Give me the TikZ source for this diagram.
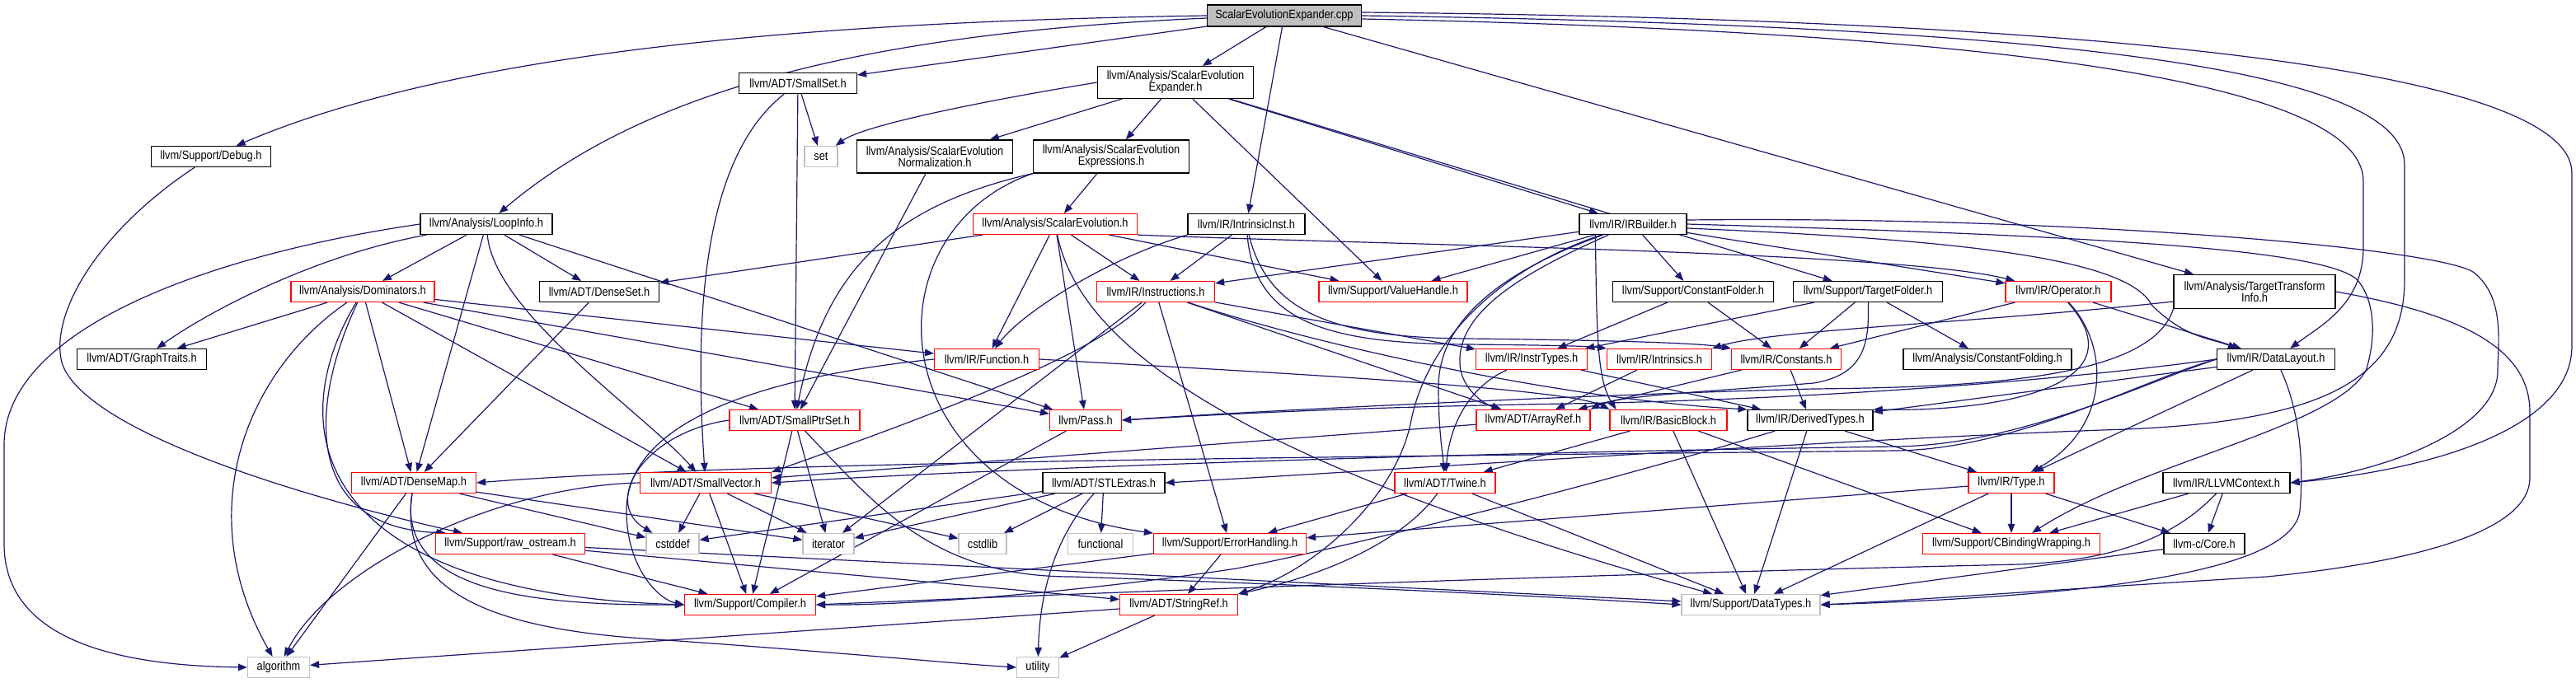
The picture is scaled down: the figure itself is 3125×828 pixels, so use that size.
\documentclass[tikz,border=0pt]{standalone}
\usepackage{fontspec}
\setmainfont{Liberation Sans}[FakeStretch=0.865]
\usetikzlibrary{arrows.meta,backgrounds}
\definecolor{edgec}{RGB}{25,25,112}
\definecolor{gborder}{RGB}{191,191,191}
\definecolor{rborder}{RGB}{255,0,0}
\newcommand\dxfont{\fontsize{14.8}{14}\selectfont}
\begin{document}
\begin{tikzpicture}[x=1pt,y=1pt,
  nb/.style={draw=black, line width=1.2pt, fill=white, inner sep=0pt, minimum height=25pt, font=\dxfont, align=center, text=black},
  nr/.style={nb, draw=rborder},
  ng/.style={nb, draw=gborder},
  e/.style={draw=edgec, line width=1.2pt, -{Triangle[length=11pt,width=8.5pt]}},
]
\useasboundingbox (0,0) rectangle (3125,-828);
% nodes
\node[nb, fill=gborder, minimum width=187pt, minimum height=26pt] (cpp) at (1558,-19) {ScalarEvolutionExpander.cpp};
\node[nb,minimum width=145pt] (debug) at (256,-190) {llvm/Support/Debug.h};
\node[nb,minimum width=160pt] (loopinfo) at (590,-272) {llvm/Analysis/LoopInfo.h};
\node[nr,minimum width=174pt] (dominators) at (440,-354) {llvm/Analysis/Dominators.h};
\node[nb,minimum width=145pt] (denseset) at (727,-354) {llvm/ADT/DenseSet.h};
\node[nb,minimum width=157pt] (graphtraits) at (172,-436) {llvm/ADT/GraphTraits.h};
\node[nr,minimum width=151pt] (densemap) at (502,-586) {llvm/ADT/DenseMap.h};
\node[nr,minimum width=181pt] (rawostream) at (619,-660) {llvm/Support/raw\_ostream.h};
\node[ng,minimum width=75pt] (algorithm) at (338,-810) {algorithm};
\node[nr,minimum width=159pt] (smallvector) at (856,-586) {llvm/ADT/SmallVector.h};
\node[nb,minimum width=143pt] (smallset) at (968,-101) {llvm/ADT/SmallSet.h};
\node[nb,minimum width=189pt,minimum height=39pt] (seexp) at (1426,-100) {llvm/Analysis/ScalarEvolution\\Expander.h};
\node[ng,minimum width=40pt] (set) at (996,-190) {set};
\node[nb,minimum width=189pt,minimum height=40pt] (senorm) at (1134,-190) {llvm/Analysis/ScalarEvolution\\Normalization.h};
\node[nb,minimum width=189pt,minimum height=40pt] (seexpr) at (1348,-190) {llvm/Analysis/ScalarEvolution\\Expressions.h};
\node[nr,minimum width=199pt] (se) at (1280,-272) {llvm/Analysis/ScalarEvolution.h};
\node[nb,minimum width=142pt] (intrinsicinst) at (1512,-272) {llvm/IR/IntrinsicInst.h};
\node[nr,minimum width=143pt] (instructions) at (1402,-354) {llvm/IR/Instructions.h};
\node[nr,minimum width=127pt] (function) at (1197,-436) {llvm/IR/Function.h};
\node[nr,minimum width=158pt] (smallptrset) at (964,-510) {llvm/ADT/SmallPtrSet.h};
\node[nr,minimum width=87pt] (pass) at (1317,-510) {llvm/Pass.h};
\node[nb,minimum width=148pt] (stlextras) at (1339,-586) {llvm/ADT/STLExtras.h};
\node[ng,minimum width=64pt] (cstddef) at (816,-660) {cstddef};
\node[ng,minimum width=62pt] (iterator) at (1005,-660) {iterator};
\node[ng,minimum width=58pt] (cstdlib) at (1192,-660) {cstdlib};
\node[ng,minimum width=79pt] (functional) at (1335,-660) {functional};
\node[nr,minimum width=185pt] (errorhandling) at (1492,-660) {llvm/Support/ErrorHandling.h};
\node[nr,minimum width=159pt] (compiler) at (910,-734) {llvm/Support/Compiler.h};
\node[nr,minimum width=143pt] (stringref) at (1430,-734) {llvm/ADT/StringRef.h};
\node[ng,minimum width=51pt] (utility) at (1259,-810) {utility};
\node[nb,minimum width=130pt] (irbuilder) at (1981,-272) {llvm/IR/IRBuilder.h};
\node[nr,minimum width=180pt] (valuehandle) at (1690,-354) {llvm/Support/ValueHandle.h};
\node[nb,minimum width=195pt] (constfolder) at (2054,-354) {llvm/Support/ConstantFolder.h};
\node[nb,minimum width=181pt] (targetfolder) at (2266,-354) {llvm/Support/TargetFolder.h};
\node[nr,minimum width=135pt] (instrtypes) at (1858,-436) {llvm/IR/InstrTypes.h};
\node[nr,minimum width=127pt] (intrinsics) at (2013,-436) {llvm/IR/Intrinsics.h};
\node[nr,minimum width=133pt] (constants) at (2167,-436) {llvm/IR/Constants.h};
\node[nb,minimum width=204pt] (constfolding) at (2411,-436) {llvm/Analysis/ConstantFolding.h};
\node[nr,minimum width=138pt] (arrayref) at (1860,-510) {llvm/ADT/ArrayRef.h};
\node[nr,minimum width=142pt] (basicblock) at (2024,-510) {llvm/IR/BasicBlock.h};
\node[nb,minimum width=152pt] (derivedtypes) at (2196,-510) {llvm/IR/DerivedTypes.h};
\node[nr,minimum width=122pt] (twine) at (1753,-586) {llvm/ADT/Twine.h};
\node[ng,minimum width=168pt] (datatypes) at (2124,-734) {llvm/Support/DataTypes.h};
\node[nr,minimum width=128pt] (operator) at (2497,-354) {llvm/IR/Operator.h};
\node[nb,minimum width=196pt,minimum height=41pt] (tti) at (2735,-354) {llvm/Analysis/TargetTransform\\Info.h};
\node[nb,minimum width=143pt] (datalayout) at (2761,-436) {llvm/IR/DataLayout.h};
\node[nr,minimum width=104pt] (type) at (2440,-586) {llvm/IR/Type.h};
\node[nb,minimum width=154pt] (llvmcontext) at (2701,-586) {llvm/IR/LLVMContext.h};
\node[nr,minimum width=215pt] (cbinding) at (2440,-660) {llvm/Support/CBindingWrapping.h};
\node[nb,minimum width=98pt] (core) at (2674,-660) {llvm-c/Core.h};

\begin{pgfonlayer}{background}
\fill[white] (0,0) rectangle (3125,-828);
% cpp
\draw[e] (cpp.west) .. controls (1000,-26) and (560,-60) .. (debug);
\draw[e] ([yshift=-3pt]cpp.west) .. controls (1050,-40) and (780,-110) .. (loopinfo);
\draw[e] (cpp) -- (smallset);
\draw[e] (cpp) -- (seexp);
\draw[e] (cpp) -- (intrinsicinst);
\draw[e] (cpp) -- (tti);
\draw[e] ([yshift=-4pt]cpp.east) .. controls (2500,-40) and (2867,-110) .. (2867,-220) -- (2867,-300) .. controls (2867,-370) and (2815,-395) .. (datalayout);
\draw[e] (cpp.east) .. controls (2550,-32) and (2917,-90) .. (2917,-200) -- (2917,-340) .. controls (2917,-470) and (2800,-515) .. (2550,-522) .. controls (2200,-535) and (1700,-570) .. (stlextras.east);
\draw[e] ([yshift=4pt]cpp.east) .. controls (2600,-24) and (3120,-90) .. (3120,-210) -- (3120,-420) .. controls (3120,-520) and (2950,-570) .. (llvmcontext.east);
% seexp
\draw[e] (seexp.west) .. controls (1220,-118) and (1050,-150) .. (set);
\draw[e] (seexp) -- (senorm);
\draw[e] (seexp) -- (seexpr);
\draw[e] (seexp) -- (valuehandle);
\draw[e] (seexp) -- (irbuilder);
\draw[e] (seexp) -- (targetfolder);
% smallset
\draw[e] (smallset) -- (set);
\draw[e] (smallset) .. controls (880,-170) and (836,-300) .. (smallvector);
\draw[e] (smallset) -- (smallptrset);
% senorm / seexpr
\draw[e] (senorm) -- (smallptrset);
\draw[e] (seexpr) -- (se);
\draw[e] (seexpr.south west) .. controls (1080,-250) and (1000,-330) .. (smallptrset);
\draw[e] (seexpr.south west) .. controls (1050,-280) and (1060,-600) .. (errorhandling);
% se
\draw[e] (se) -- (denseset);
\draw[e] (se) -- (function);
\draw[e] (se) -- (instructions);
\draw[e] (se) -- (pass);
\draw[e] (se) .. controls (1310,-420) and (1500,-560) .. (datatypes);
\draw[e] (se) -- (valuehandle);
\draw[e] (se.south east) .. controls (1700,-298) and (2300,-305) .. (operator);
% intrinsicinst
\draw[e] (intrinsicinst.south west) .. controls (1340,-315) and (1240,-380) .. (function);
\draw[e] (intrinsicinst) -- (instructions);
\draw[e] (intrinsicinst) .. controls (1522,-395) and (1620,-417) .. (1780,-418) .. controls (1880,-419) and (1925,-420) .. (intrinsics.north west);
\draw[e] (intrinsicinst) .. controls (1538,-380) and (1620,-410) .. (1780,-411) .. controls (1950,-413) and (2060,-416) .. (constants.north west);
% instructions
\draw[e] (instructions) .. controls (1340,-420) and (1200,-480) .. (smallvector.north east);
\draw[e] (instructions) -- (iterator);
\draw[e] (instructions) -- (errorhandling);
\draw[e] (instructions) -- (arrayref);
\draw[e] (instructions) -- (instrtypes);
\draw[e] (instructions) .. controls (1600,-420) and (1900,-485) .. (derivedtypes.north west);
% function
\draw[e] (function.west) .. controls (900,-460) and (760,-520) .. (760,-620) .. controls (760,-690) and (800,-728) .. (compiler.west);
\draw[e] (function.east) .. controls (1500,-450) and (1900,-470) .. (basicblock.north west);
% loopinfo
\draw[e] (loopinfo.west) .. controls (250,-310) and (5,-400) .. (5,-540) -- (5,-660) .. controls (5,-780) and (150,-808) .. (algorithm.west);
\draw[e] (loopinfo) .. controls (380,-310) and (250,-380) .. (graphtraits);
\draw[e] (loopinfo) -- (dominators);
\draw[e] (loopinfo) -- (densemap);
\draw[e] (loopinfo) .. controls (600,-380) and (780,-500) .. (smallvector);
\draw[e] (loopinfo) -- (denseset);
\draw[e] (loopinfo) -- (pass);
% dominators
\draw[e] (dominators) -- (graphtraits);
\draw[e] (dominators) .. controls (300,-450) and (230,-620) .. (algorithm);
\draw[e] (dominators) -- (densemap);
\draw[e] (dominators) .. controls (380,-480) and (360,-640) .. ([xshift=13pt]rawostream.north west);
\draw[e] (dominators) .. controls (340,-520) and (380,-720) .. (compiler.west);
\draw[e] (dominators) -- (smallvector);
\draw[e] (dominators) -- (smallptrset);
\draw[e] (dominators) -- (function);
\draw[e] (dominators) -- (pass);
% denseset, debug
\draw[e] (denseset) -- (densemap);
\draw[e] (debug) .. controls (120,-280) and (60,-380) .. (75,-440) .. controls (100,-520) and (350,-600) .. ([xshift=33pt]rawostream.north west);
% densemap
\draw[e] (densemap) -- (algorithm);
\draw[e] (densemap) -- (cstddef);
\draw[e] (densemap) -- (iterator);
\draw[e] (densemap) .. controls (480,-720) and (650,-735) .. (compiler.west);
\draw[e] (densemap) .. controls (485,-700) and (560,-760) .. (780,-775) .. controls (1000,-790) and (1150,-805) .. (utility.west);
% smallvector
\draw[e] (smallvector.west) .. controls (600,-590) and (400,-690) .. (algorithm);
\draw[e] (smallvector) -- (cstddef);
\draw[e] (smallvector) -- (compiler);
\draw[e] (smallvector) -- (iterator);
\draw[e] (smallvector) -- (cstdlib);
% smallptrset
\draw[e] (smallptrset.west) .. controls (780,-525) and (730,-610) .. ([xshift=8pt]cstddef.north west);
\draw[e] (smallptrset) -- (compiler);
\draw[e] (smallptrset) -- (iterator);
\draw[e] (smallptrset) .. controls (1060,-610) and (1130,-700) .. (1300,-700) .. controls (1600,-710) and (1900,-725) .. (datatypes.west);
% pass, stlextras
\draw[e] (pass) -- (compiler);
\draw[e] (stlextras) -- (cstddef);
\draw[e] (stlextras) -- (iterator);
\draw[e] (stlextras) -- (cstdlib);
\draw[e] (stlextras) -- (functional);
\draw[e] (stlextras) .. controls (1290,-640) and (1262,-700) .. (utility);
% errorhandling, stringref, rawostream
\draw[e] (errorhandling) -- (compiler);
\draw[e] (errorhandling) -- (stringref);
\draw[e] (stringref) -- (algorithm);
\draw[e] (stringref) -- (utility);
\draw[e] (rawostream) -- (stringref);
\draw[e] (rawostream) -- (compiler);
\draw[e] (rawostream) -- (datatypes);
% twine
\draw[e] (twine) -- (errorhandling);
\draw[e] (twine) .. controls (1700,-660) and (1600,-700) .. (stringref.north east);
\draw[e] (twine) -- (datatypes);
% instrtypes, intrinsics, constants
\draw[e] (instrtypes) .. controls (1780,-470) and (1758,-520) .. (twine);
\draw[e] (instrtypes) -- (derivedtypes);
\draw[e] (intrinsics) -- (arrayref);
\draw[e] (constants) -- (arrayref);
\draw[e] (constants) -- (derivedtypes);
% targetfolder, constfolder
\draw[e] (targetfolder) -- (instrtypes);
\draw[e] (targetfolder) -- (constants);
\draw[e] (targetfolder) -- (constfolding);
\draw[e] (targetfolder) .. controls (2268,-420) and (2260,-455) .. (2200,-465) .. controls (2080,-475) and (1960,-480) .. (arrayref.north east);
\draw[e] (constfolder) -- (instrtypes);
\draw[e] (constfolder) -- (constants);
% irbuilder
\draw[e] (irbuilder) -- (instructions);
\draw[e] (irbuilder) -- (valuehandle);
\draw[e] (irbuilder) -- (constfolder);
\draw[e] (irbuilder) .. controls (1850,-330) and (1760,-380) .. (1772,-450) .. controls (1778,-475) and (1800,-490) .. ([xshift=30pt]arrayref.north west);
\draw[e] (irbuilder) .. controls (1820,-330) and (1745,-390) .. (1745,-470) .. controls (1745,-520) and (1750,-550) .. (twine);
\draw[e] (irbuilder) .. controls (1810,-330) and (1730,-420) .. (1712,-510) .. controls (1695,-600) and (1600,-690) .. (stringref.north east);
\draw[e] ([xshift=20pt]irbuilder.south west) .. controls (1937,-400) and (1937,-460) .. ([xshift=8pt]basicblock.north west);
\draw[e] (irbuilder) -- (operator);
\draw[e] ([yshift=-5pt]irbuilder.east) .. controls (2350,-290) and (2580,-310) .. (2610,-370) .. controls (2650,-410) and (2680,-410) .. ([xshift=25pt]datalayout.north west);
\draw[e] ([yshift=5pt]irbuilder.east) .. controls (2500,-262) and (2950,-300) .. (3000,-330) .. controls (3040,-360) and (3030,-420) .. (3030,-450) .. controls (3030,-520) and (2900,-570) .. (llvmcontext.east);
\draw[e] (irbuilder.east) .. controls (2500,-285) and (2820,-300) .. (2860,-340) .. controls (2885,-370) and (2880,-420) .. (2870,-450) .. controls (2830,-520) and (2600,-560) .. ([xshift=25pt]cbinding.north);
% operator
\draw[e] (operator) -- (constants);
\draw[e] (operator) -- (datalayout);
\draw[e] (operator) .. controls (2600,-470) and (2420,-500) .. (derivedtypes.north east);
\draw[e] (operator) .. controls (2560,-420) and (2560,-520) .. (type);
% tti
\draw[e] ([yshift=-12pt]tti.west) .. controls (2400,-392) and (2150,-400) .. (intrinsics.north east);
\draw[e] (tti.south west) .. controls (2610,-460) and (2400,-470) .. (2200,-472) .. controls (1900,-480) and (1500,-500) .. (pass.east);
\draw[e] (tti.east) .. controls (2980,-380) and (3069,-420) .. (3069,-500) -- (3069,-580) .. controls (3069,-640) and (2950,-680) .. (2750,-700) .. controls (2500,-715) and (2300,-730) .. (datatypes.east);
% datalayout
\draw[e] (datalayout.west) .. controls (2600,-460) and (2450,-545) .. (2300,-547) .. controls (1600,-555) and (900,-560) .. (densemap.east);
\draw[e] (datalayout.west) .. controls (2600,-465) and (2450,-540) .. (2300,-542) .. controls (1600,-552) and (1100,-575) .. (smallvector.east);
\draw[e] (datalayout.west) .. controls (2500,-462) and (2200,-485) .. (1900,-490) .. controls (1600,-495) and (1450,-505) .. (pass.east);
\draw[e] (datalayout) -- (type);
\draw[e] (datalayout) -- (derivedtypes);
\draw[e] (datalayout) .. controls (2790,-500) and (2795,-560) .. (2790,-620) .. controls (2780,-700) and (2500,-725) .. (datatypes.east);
% derivedtypes, basicblock, arrayref
\draw[e] (derivedtypes) -- (type);
\draw[e] (derivedtypes) -- (datatypes);
\draw[e] (derivedtypes) .. controls (2000,-570) and (1700,-650) .. (1500,-690) .. controls (1300,-720) and (1100,-735) .. (compiler.east);
\draw[e] (basicblock) -- (twine);
\draw[e] (basicblock) -- (datatypes);
\draw[e] (basicblock) -- (cbinding);
\draw[e] (arrayref) -- (smallvector);
% type, llvmcontext, core
\draw[e] (type) -- (errorhandling);
\draw[e] (type) -- (cbinding);
\draw[e] (type) -- (core);
\draw[e] (type) -- (datatypes);
\draw[e] (llvmcontext) -- (cbinding);
\draw[e] (llvmcontext) -- (core);
\draw[e] (llvmcontext) .. controls (2640,-650) and (2570,-680) .. (2450,-685) .. controls (1800,-700) and (1200,-725) .. (compiler.east);
\draw[e] (core) -- (datatypes);
\end{pgfonlayer}
\end{tikzpicture}
\end{document}
